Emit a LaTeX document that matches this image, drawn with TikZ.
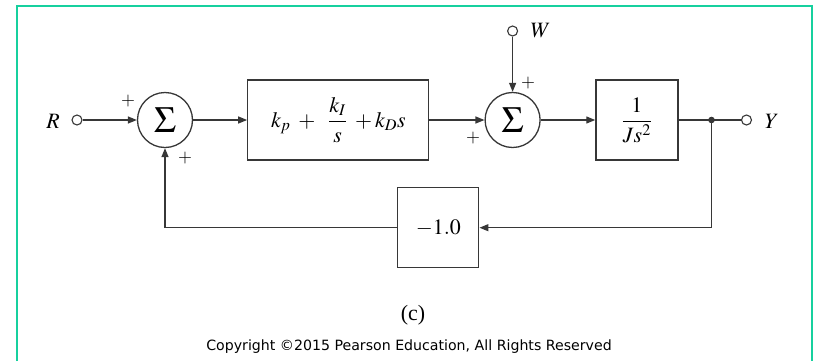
\documentclass[tikz,border=0pt]{standalone}
\usepackage{amsmath}
\usepackage{mathptmx}
\usepackage{fontspec}
\setmainfont{Liberation Serif}
\newfontfamily\notefont{DejaVu Sans}
\usetikzlibrary{positioning, arrows.meta}
\definecolor{framegreen}{RGB}{22,208,158}
\definecolor{wire}{RGB}{55,55,55}

\begin{document}
\begin{tikzpicture}[
    x=1bp, y=-1bp,
    node distance=54bp,
    block/.style={rectangle, draw=wire, line width=1.3bp, inner sep=0pt, font=\fontsize{22}{24}\selectfont},
    sumnode/.style={circle, draw=wire, line width=1.3bp, minimum size=55bp, inner sep=0pt, font=\fontsize{37}{39}\selectfont},
    term/.style={circle, draw=wire, line width=1.1bp, minimum size=10bp, inner sep=0pt},
    sig/.style={font=\fontsize{22}{24}\selectfont},
    sgn/.style={font=\fontsize{18}{20}\selectfont},
    arrow/.style={-{Triangle[length=9bp, width=7bp]}, line width=1.3bp, draw=wire}
]
\useasboundingbox (0,0) rectangle (816,361);

% frame
\draw[framegreen, line width=2.2bp] (17,361) -- (17,6) -- (812,6) -- (812,361);

% forward path
\node[sumnode] (sum1) at (165,120) {$\Sigma$};
\node[block, minimum width=181bp, minimum height=80bp, right=54bp of sum1] (ctrl) {$k_p\;+\;\;\dfrac{k_I}{s}\;+k_D s$};
\node[sumnode, right=55bp of ctrl] (sum2) {$\Sigma$};
\node[block, minimum width=82bp, minimum height=80bp, right=54.5bp of sum2] (plant) {$\dfrac{1}{Js^2}$};

% inputs and output
\node[term] (rin) at (77,120) {};
\node[sig] (rlab) at (53,121) {$R$};
\node[term] (win) at (sum2 |- 0,31) {};
\node[sig, right=9bp of win] (wlab) {$W$};
\coordinate (tap) at (711.5,120);
\node[term] (yout) at (746.5,120) {};
\node[sig] (ylab) at (772,121) {$Y$};

% feedback gain
\node[block, minimum width=81bp, minimum height=80bp] (gain) at (438.3,227.7) {$-1.0$};

% signs
\node[sgn] (s1a) at (128,101) {$+$};
\node[sgn] (s1b) at (185,158) {$+$};
\node[sgn] (s2a) at (528,83) {$+$};
\node[sgn] (s2b) at (473,138) {$+$};

% connecting arrows
\draw[arrow] (rin) -- (sum1);
\draw[arrow] (sum1) -- (ctrl);
\draw[arrow] (ctrl) -- (sum2);
\draw[arrow] (win) -- (sum2);
\draw[arrow] (sum2) -- (plant);
\draw[wire, line width=1.3bp] (plant) -- (tap) -- (yout);
\fill[wire] (tap) circle (3.3bp);
\draw[arrow] (tap) |- (gain);
\draw[arrow] (gain) -| (sum1);

% caption
\node[font=\fontsize{22}{24}\selectfont] (cap) at (413,315) {(c)};
\node[font=\notefont\fontsize{14.2}{16}\selectfont] (copy) at (409,347) {Copyright ©2015 Pearson Education, All Rights Reserved};

\end{tikzpicture}
\end{document}
